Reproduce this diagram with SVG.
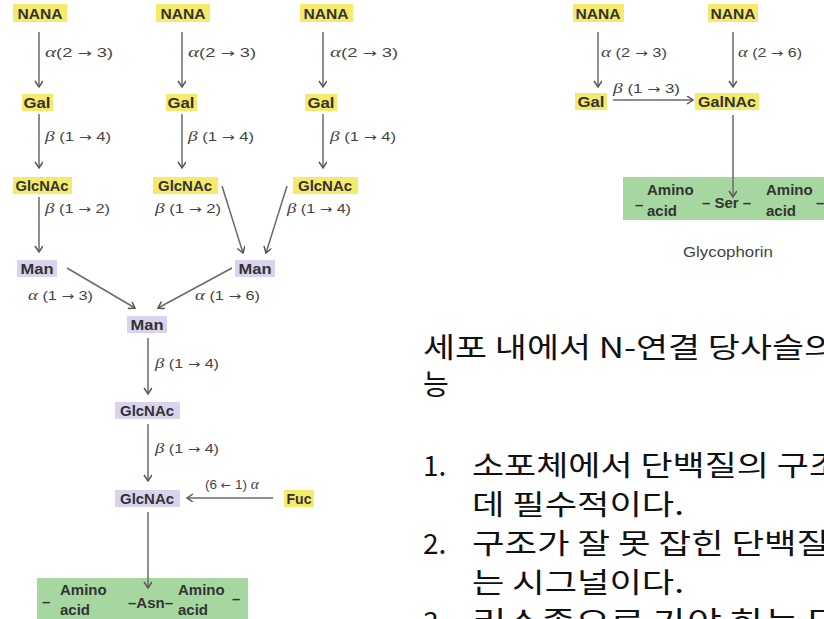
<svg xmlns="http://www.w3.org/2000/svg" width="824" height="619" viewBox="0 0 824 619">
<defs>
<marker id="ah" markerWidth="10" markerHeight="10" refX="7" refY="4" orient="auto" markerUnits="userSpaceOnUse">
<path d="M1,0 L7,4 L1,8" fill="none" stroke="#555" stroke-width="1.5"/>
</marker>
<style>
.lk{stroke:#6a6a6a;stroke-width:1.5;fill:none;marker-end:url(#ah)}
.y{fill:#f6ea6a}
.p{fill:#dad3ef}
.g{fill:#a6d7a0}
.s{font-family:"Liberation Sans",Arial,sans-serif;font-weight:bold;font-size:14px;fill:#333;text-anchor:middle}
.l{font-family:"Liberation Sans",Arial,sans-serif;font-size:13px;fill:#444}
.gr{font-family:"Liberation Serif",serif;font-style:italic;font-size:15px}
.ar{font-family:"DejaVu Sans",sans-serif;font-size:12px}
.aa{font-family:"Liberation Sans",Arial,sans-serif;font-weight:bold;font-size:15px;fill:#333}
.ko{font-family:"Noto Sans CJK KR","Noto Sans",sans-serif;font-size:28px;fill:#111}
</style>
</defs>
<rect width="824" height="619" fill="#fff"/>

<g id="link-labels">
<text class="l" x="45" y="57" textLength="68" lengthAdjust="spacingAndGlyphs"><tspan class="gr">α</tspan>(2 <tspan class="ar">→</tspan> 3)</text>
<text class="l" x="188" y="57" textLength="68" lengthAdjust="spacingAndGlyphs"><tspan class="gr">α</tspan>(2 <tspan class="ar">→</tspan> 3)</text>
<text class="l" x="330" y="57" textLength="68" lengthAdjust="spacingAndGlyphs"><tspan class="gr">α</tspan>(2 <tspan class="ar">→</tspan> 3)</text>
<text class="l" x="45" y="141" textLength="66" lengthAdjust="spacingAndGlyphs"><tspan class="gr">β</tspan> (1 <tspan class="ar">→</tspan> 4)</text>
<text class="l" x="188" y="141" textLength="66" lengthAdjust="spacingAndGlyphs"><tspan class="gr">β</tspan> (1 <tspan class="ar">→</tspan> 4)</text>
<text class="l" x="330" y="141" textLength="66" lengthAdjust="spacingAndGlyphs"><tspan class="gr">β</tspan> (1 <tspan class="ar">→</tspan> 4)</text>
<text class="l" x="45" y="213" textLength="65" lengthAdjust="spacingAndGlyphs"><tspan class="gr">β</tspan> (1 <tspan class="ar">→</tspan> 2)</text>
<text class="l" x="155" y="213" textLength="66" lengthAdjust="spacingAndGlyphs"><tspan class="gr">β</tspan> (1 <tspan class="ar">→</tspan> 2)</text>
<text class="l" x="287" y="213" textLength="64" lengthAdjust="spacingAndGlyphs"><tspan class="gr">β</tspan> (1 <tspan class="ar">→</tspan> 4)</text>
<text class="l" x="28" y="300" textLength="65" lengthAdjust="spacingAndGlyphs"><tspan class="gr">α</tspan> (1 <tspan class="ar">→</tspan> 3)</text>
<text class="l" x="195" y="300" textLength="65" lengthAdjust="spacingAndGlyphs"><tspan class="gr">α</tspan> (1 <tspan class="ar">→</tspan> 6)</text>
<text class="l" x="155" y="368" textLength="64" lengthAdjust="spacingAndGlyphs"><tspan class="gr">β</tspan> (1 <tspan class="ar">→</tspan> 4)</text>
<text class="l" x="155" y="453" textLength="64" lengthAdjust="spacingAndGlyphs"><tspan class="gr">β</tspan> (1 <tspan class="ar">→</tspan> 4)</text>
<text class="l" x="205" y="489" textLength="54" lengthAdjust="spacingAndGlyphs">(6 <tspan class="ar">←</tspan> 1) <tspan class="gr">α</tspan></text>
<text class="l" x="601" y="57" textLength="66" lengthAdjust="spacingAndGlyphs"><tspan class="gr">α</tspan> (2 <tspan class="ar">→</tspan> 3)</text>
<text class="l" x="738" y="57" textLength="64" lengthAdjust="spacingAndGlyphs"><tspan class="gr">α</tspan> (2 <tspan class="ar">→</tspan> 6)</text>
<text class="l" x="613" y="93" textLength="67" lengthAdjust="spacingAndGlyphs"><tspan class="gr">β</tspan> (1 <tspan class="ar">→</tspan> 3)</text>
</g>

<g id="nana1"><rect class="y" x="13" y="4" width="54" height="18"/><text class="s" x="40" y="18.5" textLength="45" lengthAdjust="spacingAndGlyphs">NANA</text></g>
<g id="nana2"><rect class="y" x="156" y="4" width="54" height="18"/><text class="s" x="183" y="18.5" textLength="45" lengthAdjust="spacingAndGlyphs">NANA</text></g>
<g id="nana3"><rect class="y" x="300" y="4" width="53" height="18"/><text class="s" x="326" y="18.5" textLength="45" lengthAdjust="spacingAndGlyphs">NANA</text></g>
<g id="gal1"><rect class="y" x="22" y="94" width="31" height="17"/><text class="s" x="37" y="107.5" textLength="27" lengthAdjust="spacingAndGlyphs">Gal</text></g>
<g id="gal2"><rect class="y" x="166" y="94" width="31" height="17"/><text class="s" x="181" y="107.5" textLength="27" lengthAdjust="spacingAndGlyphs">Gal</text></g>
<g id="gal3"><rect class="y" x="305" y="94" width="32" height="17"/><text class="s" x="321" y="107.5" textLength="27" lengthAdjust="spacingAndGlyphs">Gal</text></g>
<g id="glcnac1"><rect class="y" x="13" y="177" width="59" height="17"/><text class="s" x="42" y="190.5" textLength="53" lengthAdjust="spacingAndGlyphs">GlcNAc</text></g>
<g id="glcnac2"><rect class="y" x="153" y="177" width="65" height="17"/><text class="s" x="185" y="190.5" textLength="54" lengthAdjust="spacingAndGlyphs">GlcNAc</text></g>
<g id="glcnac3"><rect class="y" x="293" y="177" width="65" height="17"/><text class="s" x="325" y="190.5" textLength="54" lengthAdjust="spacingAndGlyphs">GlcNAc</text></g>
<g id="man1"><rect class="p" x="17" y="260" width="40" height="17"/><text class="s" x="37" y="273.5" textLength="33" lengthAdjust="spacingAndGlyphs">Man</text></g>
<g id="man2"><rect class="p" x="235" y="260" width="40" height="17"/><text class="s" x="255" y="273.5" textLength="33" lengthAdjust="spacingAndGlyphs">Man</text></g>
<g id="man3"><rect class="p" x="127" y="316" width="40" height="17"/><text class="s" x="147" y="329.5" textLength="33" lengthAdjust="spacingAndGlyphs">Man</text></g>
<g id="glcnac4"><rect class="p" x="115" y="402" width="65" height="17"/><text class="s" x="147" y="415.5" textLength="54" lengthAdjust="spacingAndGlyphs">GlcNAc</text></g>
<g id="glcnac5"><rect class="p" x="115" y="490" width="65" height="17"/><text class="s" x="147" y="503.5" textLength="54" lengthAdjust="spacingAndGlyphs">GlcNAc</text></g>
<g id="fuc"><rect class="y" x="284" y="490" width="30" height="17"/><text class="s" x="299" y="503.5" textLength="25" lengthAdjust="spacingAndGlyphs">Fuc</text></g>
<g id="asn">
<rect class="g" x="37" y="578" width="211" height="52"/>
<text class="aa" x="42" y="607">–</text>
<text class="aa" x="60" y="595">Amino</text>
<text class="aa" x="60" y="615">acid</text>
<text class="aa" x="128" y="608">–Asn–</text>
<text class="aa" x="178" y="595">Amino</text>
<text class="aa" x="178" y="615">acid</text>
<text class="aa" x="232" y="604">–</text>
</g>

<g id="r-nana1"><rect class="y" x="573" y="4" width="51" height="18"/><text class="s" x="598" y="18.5" textLength="45" lengthAdjust="spacingAndGlyphs">NANA</text></g>
<g id="r-nana2"><rect class="y" x="708" y="4" width="50" height="18"/><text class="s" x="733" y="18.5" textLength="45" lengthAdjust="spacingAndGlyphs">NANA</text></g>
<g id="r-gal"><rect class="y" x="575" y="93" width="32" height="17"/><text class="s" x="591" y="106.5" textLength="27" lengthAdjust="spacingAndGlyphs">Gal</text></g>
<g id="r-galnac"><rect class="y" x="695" y="93" width="64" height="17"/><text class="s" x="727" y="106.5" textLength="58" lengthAdjust="spacingAndGlyphs">GalNAc</text></g>
<g id="ser">
<rect class="g" x="623" y="177" width="210" height="43"/>
<text class="aa" x="635" y="210">–</text>
<text class="aa" x="647" y="195">Amino</text>
<text class="aa" x="647" y="216">acid</text>
<text class="aa" x="702" y="208">– Ser –</text>
<text class="aa" x="766" y="195">Amino</text>
<text class="aa" x="766" y="216">acid</text>
<text class="aa" x="816" y="208">–</text>
</g>
<text id="glycophorin" x="683" y="257" font-family="Liberation Sans, Arial, sans-serif" font-size="15" fill="#444" textLength="90" lengthAdjust="spacingAndGlyphs">Glycophorin</text>

<g id="connectors">
<line class="lk" x1="39" y1="32" x2="39" y2="87"/>
<line class="lk" x1="182" y1="32" x2="182" y2="87"/>
<line class="lk" x1="323" y1="32" x2="323" y2="87"/>
<line class="lk" x1="39" y1="114" x2="39" y2="168"/>
<line class="lk" x1="182" y1="114" x2="182" y2="168"/>
<line class="lk" x1="323" y1="114" x2="323" y2="168"/>
<line class="lk" x1="39" y1="197" x2="39" y2="252"/>
<line class="lk" x1="222" y1="186" x2="243" y2="253"/>
<line class="lk" x1="287" y1="186" x2="266" y2="253"/>
<line class="lk" x1="67" y1="268" x2="135" y2="308"/>
<line class="lk" x1="232" y1="268" x2="158" y2="308"/>
<line class="lk" x1="148" y1="338" x2="148" y2="394"/>
<line class="lk" x1="148" y1="424" x2="148" y2="481"/>
<line class="lk" x1="273" y1="498" x2="187" y2="498"/>
<line class="lk" x1="148" y1="512" x2="148" y2="588"/>
<line class="lk" x1="598" y1="32" x2="598" y2="87"/>
<line class="lk" x1="733" y1="32" x2="733" y2="87"/>
<line class="lk" x1="613" y1="100" x2="693" y2="100"/>
<line class="lk" x1="733" y1="115" x2="733" y2="197"/>
</g>

<g id="text-block">
<text class="ko" x="423" y="358" textLength="413" lengthAdjust="spacingAndGlyphs">세포 내에서 N-연결 당사슬의</text>
<text class="ko" x="423" y="395">능</text>
<text class="ko" x="423" y="476">1.</text>
<text class="ko" x="472" y="476" textLength="369" lengthAdjust="spacingAndGlyphs">소포체에서 단백질의 구조</text>
<text class="ko" x="472" y="515" textLength="212" lengthAdjust="spacingAndGlyphs">데 필수적이다.</text>
<text class="ko" x="423" y="554">2.</text>
<text class="ko" x="472" y="554" textLength="357" lengthAdjust="spacingAndGlyphs">구조가 잘 못 잡힌 단백질</text>
<text class="ko" x="472" y="593" textLength="212" lengthAdjust="spacingAndGlyphs">는 시그널이다.</text>
<text class="ko" x="423" y="632">3.</text>
<text class="ko" x="472" y="632" textLength="370" lengthAdjust="spacingAndGlyphs">리소좀으로 가야 하는 단</text>
</g>
</svg>
